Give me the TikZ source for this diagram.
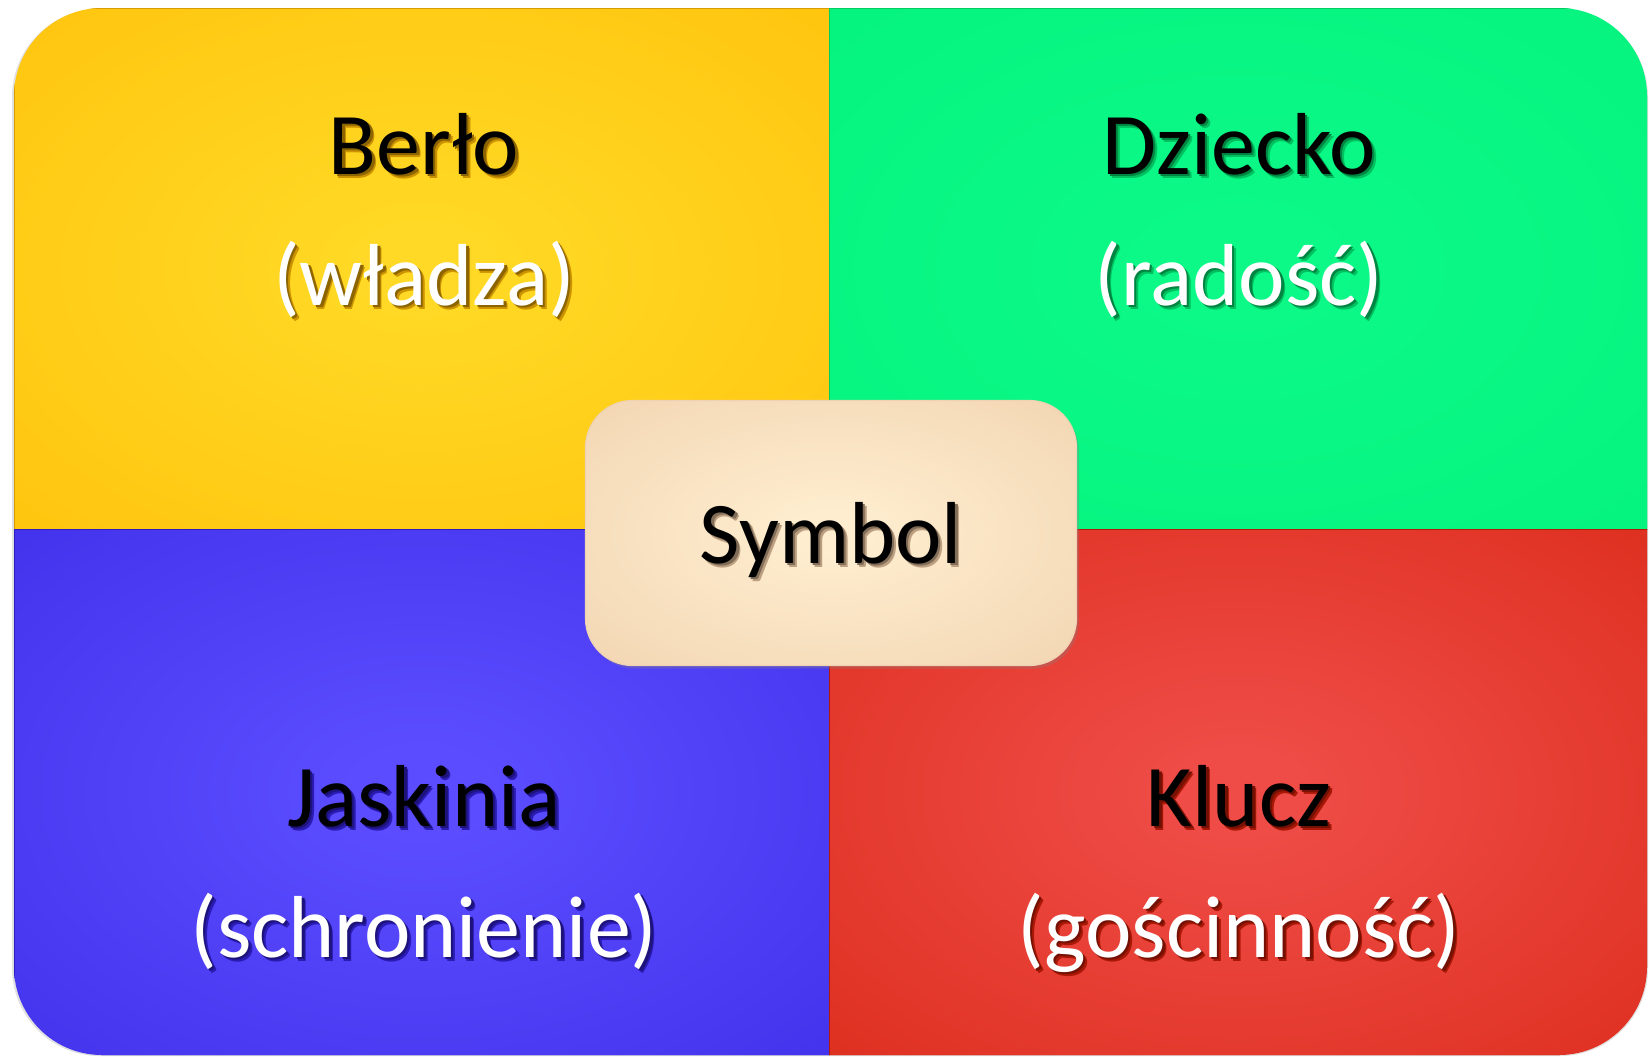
\documentclass[tikz,border=0pt]{standalone}
\usepackage{fontspec}
\setmainfont{Carlito}
\usetikzlibrary{shadows}

\definecolor{yellowin}{HTML}{FFD925}
\definecolor{yellowout}{HTML}{FFB800}
\definecolor{greenin}{HTML}{0CF988}
\definecolor{greenout}{HTML}{00F078}
\definecolor{bluein}{HTML}{5B4DFF}
\definecolor{blueout}{HTML}{3422E0}
\definecolor{redin}{HTML}{EF4C47}
\definecolor{redout}{HTML}{D31E08}
\definecolor{boxin}{HTML}{FEEDCF}
\definecolor{boxout}{HTML}{EBC7A0}
\colorlet{softin}{white}
\colorlet{softout}{black}

% radial shading that keeps its light centre wide
\pgfdeclareradialshading[softin,softout]{soft}{\pgfpoint{0bp}{0bp}}{%
   color(0bp)=(softin); color(4bp)=(softin); color(56bp)=(softout); color(72bp)=(softout)}

% text with a soft offset shadow behind it
\newcommand\shtext[2]{\leavevmode
   \rlap{\hspace{2pt}\raisebox{-2pt}{\color{#1!80!black}#2}}%
   \rlap{\hspace{1.2pt}\raisebox{-1.2pt}{\color{#1!55!black}#2}}#2}

\tikzset{
   quad/.style 2 args={/utils/exec={\colorlet{softin}{#1}\colorlet{softout}{#2}},
      shading=soft, draw=#2!85!black, line width=0.5pt},
   label/.style={anchor=base, font=\fontsize{44}{52}\selectfont, inner sep=0pt},
   symbolbox/.style={rounded corners=23.5pt, draw=boxout!80!white, line width=0.6pt,
      /utils/exec={\colorlet{softin}{boxin}\colorlet{softout}{boxout}}, shading=soft,
      minimum width=245.5pt, minimum height=132.5pt,
      text depth=0pt, text height=30pt, font=\fontsize{44}{52}\selectfont,
      drop shadow={shadow xshift=1.2pt, shadow yshift=-1.6pt, opacity=0.3}}
}

\begin{document}
\begin{tikzpicture}[x=0.5pt, y=-0.5pt]
   \useasboundingbox (0, 0) rectangle (1649, 1056);
   \def\R{44pt}
   % outer shadow
   \fill[black!12, rounded corners=\R] (12, 9) rectangle (1648, 1056);
   \begin{scope}
      \clip[rounded corners=\R] (14, 8) rectangle (1647, 1055);
      \path[quad={yellowin}{yellowout}] (14, 8) rectangle (829, 529);
      \path[quad={greenin}{greenout}] (829, 8) rectangle (1647, 529);
      \path[quad={bluein}{blueout}] (14, 529) rectangle (829, 1055);
      \path[quad={redin}{redout}] (829, 529) rectangle (1647, 1055);
   \end{scope}

   \node[label] (berlo) at (424, 174) {\shtext{yellowout}{Berło}};
   \node[label, white] (wladza) at (424, 305) {\shtext{yellowout}{(władza)}};
   \node[label] (dziecko) at (1239, 174) {\shtext{greenout}{Dziecko}};
   \node[label, white] (radosc) at (1239, 305) {\shtext{greenout}{(radość)}};
   \node[label] (jaskinia) at (424, 826) {\shtext{blueout}{Jaskinia}};
   \node[label, white] (schronienie) at (424, 957) {\shtext{blueout}{(schronienie)}};
   \node[label] (klucz) at (1239, 826) {\shtext{redout}{Klucz}};
   \node[label, white] (goscinnosc) at (1239, 957) {\shtext{redout}{(gościnność)}};

   \node[symbolbox] (symbol) at (831, 533) {\shtext{boxout}{Symbol}};
\end{tikzpicture}
\end{document}
